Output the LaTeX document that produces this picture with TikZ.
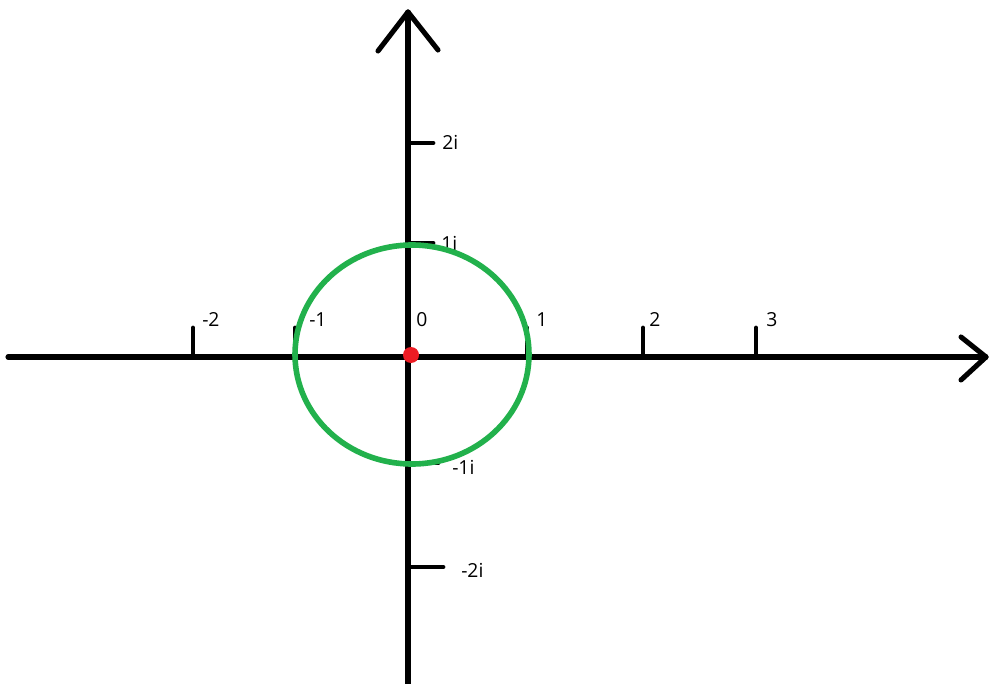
\documentclass[tikz,border=0pt]{standalone}
\usepackage{fontspec}
\setmainfont{Open Sans}
\definecolor{ringgreen}{RGB}{34,177,76}
\definecolor{dotred}{RGB}{237,28,36}

\begin{document}
\begin{tikzpicture}[x=0.75pt, y=-0.75pt,
    axisline/.style={line width=3.8pt, line cap=round, line join=round},
    tickline/.style={line width=3.6pt, line cap=round},
    ticklabel/.style={anchor=base west, inner sep=0pt, font=\fontsize{14.5}{16}\selectfont},
    ring/.style={draw=ringgreen, line width=4.2pt}]

\useasboundingbox (0,0) rectangle (989,684);

% origin of the plane
\coordinate (O) at (408,357);

% ========== Axes ==========
\draw[axisline] (8,357) -- (986,357);
\draw[axisline] (961,337) -- (986,357) -- (961,380);
\draw[axisline] (408,684) -- (408,12);
\draw[axisline] (378,51) -- (408,12) -- (438,50);

% ========== Real axis ticks ==========
\foreach \x/\lx/\lbl in {193/202/-2, 295/309/-1, 527/536/1, 643/649/2, 756/766/3} {
    \draw[tickline] (\x,328) -- (\x,357);
    \node[ticklabel] at (\lx,327) {\lbl};
}
\node[ticklabel] (zero) at (416,327) {0};

% ========== Imaginary axis ticks ==========
\foreach \y/\len/\lx/\ly/\lbl in {143/433/442/150/2i, 243/433/441/251/1i, 463/438/452/474/-1i, 567/443/461/577/-2i} {
    \draw[tickline] (408,\y) -- (\len,\y);
    \node[ticklabel] at (\lx,\ly) {\lbl};
}

% ========== Unit circle and centre ==========
\draw[ring] (412,354.5) ellipse [x radius=117, y radius=109.5];
\fill[dotred] (411,355) circle [radius=8];

\end{tikzpicture}
\end{document}
